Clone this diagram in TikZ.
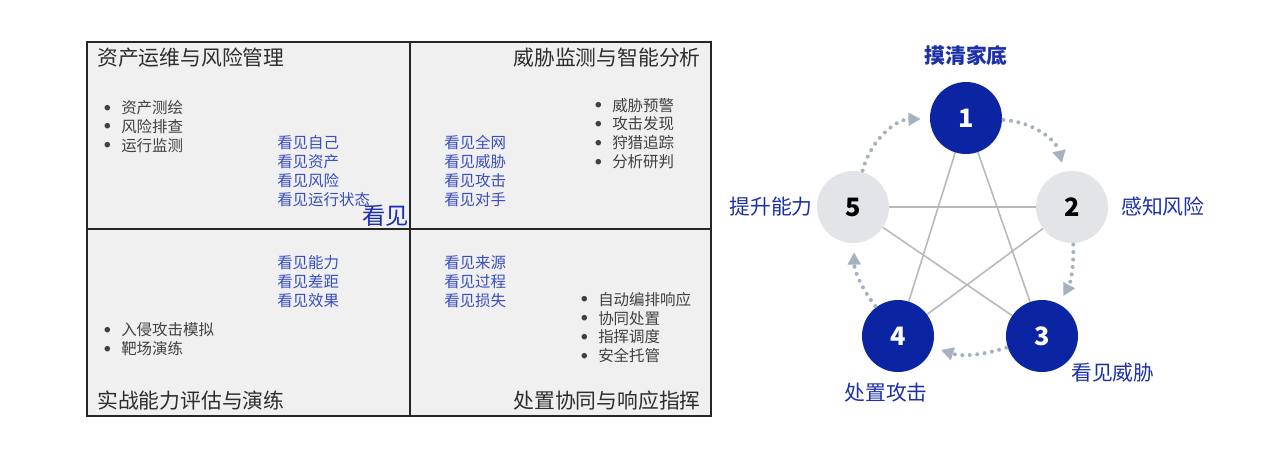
\documentclass[tikz,border=0pt]{standalone}
\usepackage{fontspec}
\setmainfont{Noto Sans CJK SC}
\usetikzlibrary{arrows.meta, backgrounds}

\definecolor{gridfill}{RGB}{240,240,240}
\definecolor{gridline}{RGB}{38,38,38}
\definecolor{titlegray}{RGB}{45,45,45}
\definecolor{bulgray}{RGB}{64,64,64}
\definecolor{seenblue}{RGB}{58,78,192}
\definecolor{bigblue}{RGB}{25,45,175}
\definecolor{ringblue}{RGB}{11,36,162}
\definecolor{ringgray}{RGB}{226,228,232}
\definecolor{tagblue}{RGB}{28,48,170}
\definecolor{stargray}{RGB}{185,185,185}
\definecolor{cycgray}{RGB}{165,177,191}

\newcommand{\itm}{\makebox[12.75pt][l]{\raisebox{2.6pt}{\fontsize{4.6}{5}\selectfont ●}}}

\begin{document}
\begin{tikzpicture}[
    x=0.75pt, y=-0.75pt,
    every node/.style={inner sep=0pt},
    quad/.style={draw=gridline, line width=1.5pt, fill=gridfill},
    title/.style={font=\fontsize{15.6}{18}\selectfont, text=titlegray},
    bul/.style={anchor=west, align=left, font=\fontsize{11.6}{14.1}\selectfont, text=bulgray},
    seen/.style={anchor=west, align=left, font=\fontsize{11.6}{14.1}\selectfont, text=seenblue},
    dark/.style={circle, fill=ringblue, minimum size=54pt, text=white, font=\fontsize{19}{19}\selectfont\bfseries},
    light/.style={circle, fill=ringgray, minimum size=54pt, text=black, font=\fontsize{19}{19}\selectfont\bfseries},
    tag/.style={font=\fontsize{15.6}{18}\selectfont, text=tagblue},
    star/.style={draw=stargray, line width=1.2pt},
    cyc/.style={draw=cycgray, line width=3pt, line cap=round, dash pattern=on 0pt off 5.6pt,
        -{Triangle[length=9pt, width=10pt, line width=0.1pt]}, shorten >=7pt, shorten <=1pt}
]
\useasboundingbox (0,0) rectangle (1267,455);

% --- Quadranten ---
\draw[quad] (87,42) rectangle (711,416);
\draw[gridline, line width=1.5pt] (410,42) -- (410,416) (87,229) -- (711,229);

% --- Titel ---
\node[title, anchor=west] (tAsset)  at (97,58)  {资产运维与风险管理};
\node[title, anchor=east] (tThreat) at (701,58) {威胁监测与智能分析};
\node[title, anchor=west] (tDrill)  at (97,401) {实战能力评估与演练};
\node[title, anchor=east] (tResp)   at (701,401) {处置协同与响应指挥};

% --- Inhalt ---
\node[bul]  (bAsset)  at (104,126.5) {\itm 资产测绘\\\itm 风险排查\\\itm 运行监测};
\node[seen] (sAsset)  at (277,171)   {看见自己\\看见资产\\看见风险\\看见运行状态};
\node[seen] (sThreat) at (444,171)   {看见全网\\看见威胁\\看见攻击\\看见对手};
\node[bul]  (bThreat) at (595,133.5) {\itm 威胁预警\\\itm 攻击发现\\\itm 狩猎追踪\\\itm 分析研判};
\node[seen] (sDrill)  at (277,281.5) {看见能力\\看见差距\\看见效果};
\node[bul]  (bDrill)  at (104,339.5) {\itm 入侵攻击模拟\\\itm 靶场演练};
\node[seen] (sResp)   at (444,281.5) {看见来源\\看见过程\\看见损失};
\node[bul]  (bResp)   at (581,327.5) {\itm 自动编排响应\\\itm 协同处置\\\itm 指挥调度\\\itm 安全托管};
\node[anchor=east, font=\fontsize{17.5}{18}\selectfont, text=bigblue] (seeBig) at (409,216) {看见};

% --- Fuenfeck ---
\node[dark]  (n1) at (966,118) {1};
\node[light] (n2) at (1072,207) {2};
\node[dark]  (n3) at (1042,336) {3};
\node[dark]  (n4) at (898,336) {4};
\node[light] (n5) at (853,207) {5};

\node[tag, font=\fontsize{15.6}{18}\selectfont\bfseries] (l1) at (966,55) {摸清家底};
\node[tag, anchor=west] (l2) at (1121,207) {感知风险};
\node[tag, anchor=west] (l3) at (1071,373) {看见威胁};
\node[tag] (l4) at (886,393) {处置攻击};
\node[tag, anchor=east] (l5) at (813,207) {提升能力};

\begin{scope}[on background layer]
    \draw[star] (n1) -- (n3);
    \draw[star] (n1) -- (n4);
    \draw[star] (n5) -- (n2);
    \draw[star] (n5) -- (n3);
    \draw[star] (n2) -- (n4);
\end{scope}

% --- Kreislauf ---
\draw[cyc] (n1) to[bend left=37] (n2);
\draw[cyc] (n2) to[bend left=15] (n3);
\draw[cyc] (n3) to[bend left=18] (n4);
\draw[cyc] (n4) to[bend left=18] (n5);
\draw[cyc] (n5) to[bend left=37] (n1);

\end{tikzpicture}
\end{document}
